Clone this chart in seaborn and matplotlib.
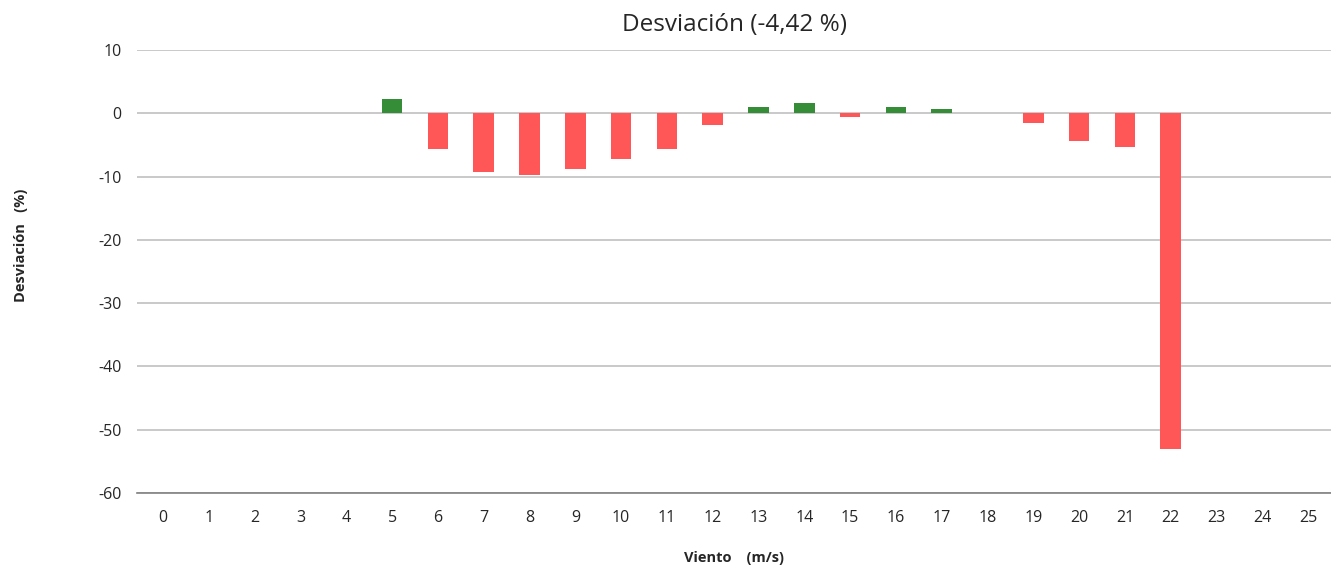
import pandas as pd
import matplotlib.pyplot as plt
import seaborn as sns

# datos
viento = list(range(0, 26))
desviacion = [0, 0, 0, 0, 0, 2.2, -5.7, -9.2, -9.8, -8.8, -7.25, -5.7, -1.85,
              0.95, 1.6, -0.6, 0.95, 0.63, 0, -1.55, -4.4, -5.35, -53.0, 0, 0, 0]
titulo = "Desviación (-4,42 %)"

df = pd.DataFrame({"viento": [str(v) for v in viento], "desv": desviacion})
df["signo"] = ["pos" if d >= 0 else "neg" for d in df["desv"]]

sns.set_style("white")
plt.rcParams["font.family"] = ["Open Sans", "DejaVu Sans"]
plt.rcParams["axes.unicode_minus"] = False

fig = plt.figure(figsize=(13.31, 5.73), dpi=100)
ax = fig.add_axes([0.103, 0.1396, 0.897, 0.7731])

sns.barplot(data=df, x="viento", y="desv", hue="signo",
            palette={"pos": "#358E37", "neg": "#FF5757"}, saturation=1,
            order=[str(v) for v in viento], dodge=False, width=0.45,
            linewidth=0, legend=False, ax=ax)

ax.set_ylim(-60, 10)
ax.set_xlim(-0.57, 25.5)
ax.set_yticks(range(-60, 11, 10))
ax.grid(axis="y", color="#C0C0C0", linewidth=1.2)
ax.set_axisbelow(True)
for s in ["top", "right", "left"]:
    ax.spines[s].set_visible(False)
ax.spines["bottom"].set_color("#808080")
ax.spines["bottom"].set_linewidth(1.2)
ax.tick_params(axis="y", length=0, labelsize=11.5, pad=11)
ax.tick_params(axis="x", length=4, width=1.2, color="#404040", direction="out",
               labelsize=11.5, pad=8)

ax.set_title(titulo, fontsize=17.5, pad=14)
ax.set_xlabel("Viento    (m/s)", fontsize=10.5, fontweight="bold", labelpad=18)
ax.set_ylabel("Desviación   (%)", fontsize=10.5, fontweight="bold")
ax.yaxis.set_label_coords(-0.091, 0.56)

fig.savefig("out.png", dpi=100)
